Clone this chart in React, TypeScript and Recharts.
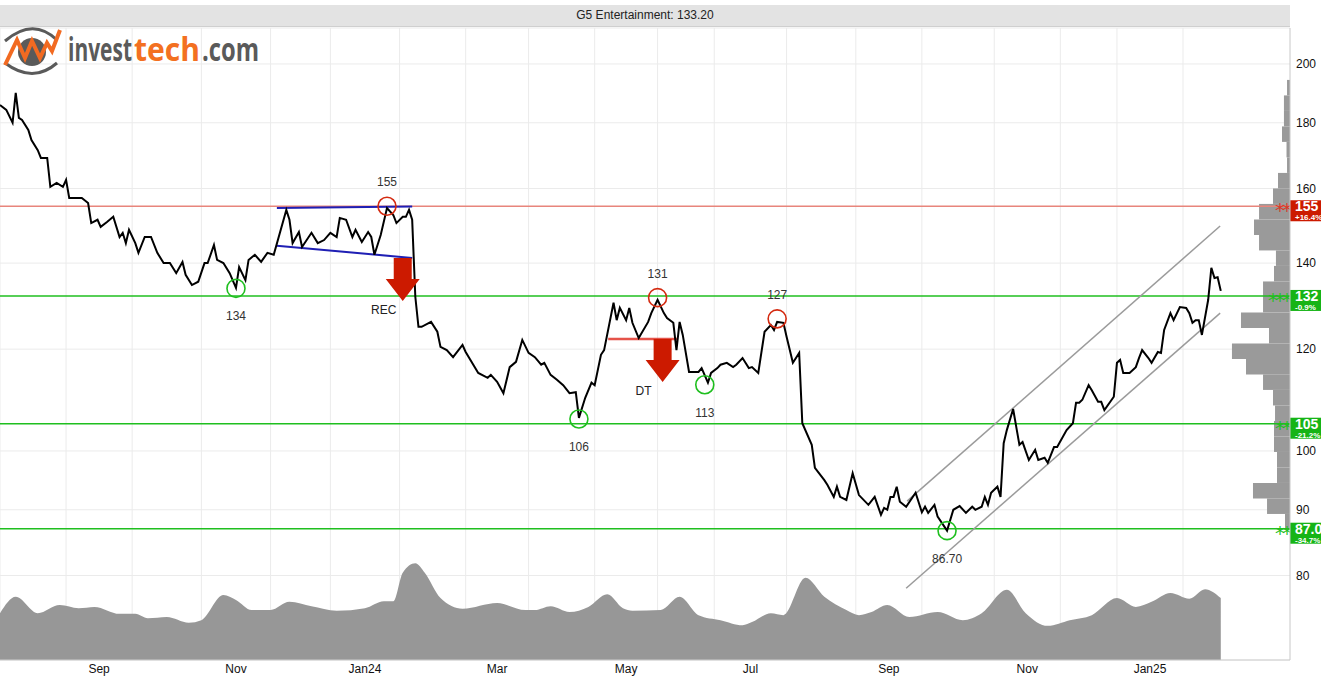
import React from 'react';
import {
  ComposedChart,
  Line,
  Area,
  XAxis,
  YAxis,
  CartesianGrid,
  ReferenceLine,
  ReferenceDot,
  ReferenceArea,
} from 'recharts';

// x values are trading days counted from 1 Aug 2023
const monthNames = ['Aug', 'Sep', 'Oct', 'Nov', 'Dec', 'Jan24', 'Feb', 'Mar', 'Apr', 'May', 'Jun', 'Jul', 'Aug', 'Sep', 'Oct', 'Nov', 'Dec', 'Jan25', 'Feb'];
const monthStarts = [0, 21, 42, 64, 86, 105, 127, 148, 168, 189, 209, 227, 250, 272, 293, 316, 337, 355, 376];

const priceDays = [
  0, 2, 4, 5, 6, 7, 9, 10, 12, 13, 15, 16, 18, 20, 21, 22, 24, 26, 28, 29, 31, 32, 34, 36, 38, 39, 40, 41, 43, 44,
  46, 48, 50, 52, 54, 56, 58, 59, 61, 63, 65, 66, 68, 69, 71, 73, 75, 76, 78, 79, 81, 83, 85, 87, 91, 92, 93, 95, 96, 99,
  101, 103, 105, 107, 108, 110, 112, 113, 115, 117, 118, 119, 121, 123, 125, 126, 128, 129, 130, 131, 132, 133, 134, 137, 139, 140, 142, 144, 147, 148,
  152, 155, 156, 158, 160, 162, 164, 166, 168, 170, 172, 173, 175, 177, 179, 181, 183, 184, 186, 188, 189, 191, 192, 195, 196, 197, 199, 200, 201, 203,
  206, 207, 209, 211, 212, 214, 215, 216, 217, 219, 222, 223, 225, 226, 228, 229, 231, 233, 234, 236, 238, 239, 241, 243, 245, 246, 247, 249, 250, 252,
  254, 255, 258, 259, 262, 263, 265, 266, 267, 269, 271, 273, 276, 278, 280, 281, 282, 283, 284, 285, 286, 288, 291, 293, 294, 295, 297, 298, 301, 303,
  305, 307, 309, 310, 312, 313, 314, 315, 317, 318, 319, 320, 322, 324, 325, 327, 329, 330, 332, 333, 335, 336, 339, 341, 342, 343, 344, 346, 347, 349,
  350, 351, 354, 355, 356, 357, 359, 361, 362, 363, 365, 366, 368, 369, 370, 372, 373, 375, 377, 378, 379, 380, 381, 382, 384, 385, 386, 387, 388,
];
const prices = [
  185.8, 184.2, 180.0, 189.9, 181.6, 180.9, 177.7, 174.5, 171.4, 169.0, 169.0, 160.5, 161.6, 160.5, 162.5, 157.3, 157.3, 157.3, 155.9, 150.4, 151.3, 149.4, 150.7, 152.1, 146.7, 147.8, 145.1, 148.6, 145.1, 142.6,
  146.7, 146.7, 142.6, 140.0, 140.0, 137.5, 140.3, 137.1, 134.6, 135.4, 140.0, 140.0, 144.6, 140.8, 140.0, 137.5, 133.9, 139.0, 135.8, 140.8, 142.1, 140.3, 142.6, 142.1, 154.0, 151.3, 145.1, 148.0, 144.1, 147.8,
  145.1, 145.9, 147.8, 146.7, 151.8, 151.3, 146.7, 148.6, 145.4, 148.0, 146.7, 142.1, 147.2, 154.5, 152.6, 150.4, 152.1, 152.1, 154.0, 151.3, 131.8, 124.9, 124.9, 126.0, 123.8, 120.5, 119.8, 118.3, 120.9, 119.4,
  115.0, 114.0, 114.6, 113.2, 110.9, 116.2, 117.3, 122.0, 119.2, 118.3, 116.7, 117.1, 114.6, 113.6, 112.5, 110.9, 111.1, 106.1, 110.0, 113.0, 112.5, 118.8, 119.8, 130.4, 126.4, 129.2, 126.4, 129.2, 125.8, 122.4,
  126.0, 128.0, 131.1, 128.0, 126.9, 125.8, 119.8, 126.0, 123.1, 115.2, 115.2, 116.0, 113.0, 115.0, 116.0, 116.7, 117.1, 116.2, 116.7, 118.1, 116.0, 116.2, 115.0, 123.8, 125.3, 124.2, 126.0, 125.8, 122.7, 117.1,
  119.2, 105.1, 101.1, 97.0, 94.9, 94.1, 92.1, 93.8, 92.1, 91.6, 96.1, 92.4, 90.8, 92.1, 89.2, 90.3, 90.0, 92.1, 92.1, 93.8, 91.3, 90.5, 92.8, 89.6, 90.5, 89.5, 90.8, 88.9, 86.7, 90.0,
  90.6, 89.5, 90.5, 90.0, 90.5, 92.1, 90.8, 92.8, 93.8, 92.1, 101.4, 103.8, 107.8, 101.1, 101.6, 98.4, 100.2, 98.4, 98.8, 97.9, 100.7, 100.7, 103.8, 105.1, 109.0, 109.0, 109.6, 112.5, 111.5, 109.2,
  109.2, 107.6, 110.2, 117.1, 117.7, 115.0, 115.0, 116.2, 118.1, 119.8, 118.1, 117.1, 119.4, 119.2, 124.2, 128.0, 126.4, 129.4, 129.2, 128.0, 125.8, 126.4, 126.4, 123.1, 131.1, 138.8, 136.3, 136.5, 133.2,
];

const volumeDays = [
  0, 5, 12, 19, 25, 30, 38, 43, 47, 53, 60, 64, 71, 75, 80, 86, 92, 99, 107, 116, 122, 125, 128, 132, 135, 140, 147, 158, 167, 170,
  175, 181, 187, 193, 198, 201, 210, 216, 222, 229, 236, 239, 245, 249, 256, 262, 269, 273, 277, 282, 289, 298, 306, 312, 320, 326, 333, 340, 347, 355,
  361, 366, 372, 378, 383, 388,
];
const volumes = [
  74, 100, 74, 87, 82, 84, 73, 73, 66, 68, 59, 63, 103, 95, 79, 79, 92, 85, 78, 82, 93, 93, 138, 153, 138, 98, 81, 90, 79, 79,
  85, 76, 84, 104, 82, 78, 79, 100, 71, 63, 55, 60, 74, 71, 130, 100, 79, 71, 76, 87, 68, 76, 63, 74, 111, 74, 54, 63, 71, 98,
  84, 92, 106, 97, 112, 98,
];

// volume-by-price profile drawn against the right edge
const profileEdges = [
  86.88, 89.33, 91.84, 94.43, 97.09, 99.82, 102.63, 105.52, 108.49, 111.55, 114.69, 117.91, 121.23, 124.65, 128.16,
  131.76, 135.47, 139.29, 143.21, 147.24, 151.38, 155.65, 160.03, 164.54, 169.17, 173.94, 178.83, 183.86, 189.04, 194.36,
];
const profileVolumes = [
  3.9, 17.8, 28.7, 10.1, 10.1, 12.4, 12.4, 11.6, 13.2, 20.9, 34.1, 45.0, 16.3, 38.0, 20.9,
  20.9, 12.4, 10.9, 24.0, 27.9, 24.0, 13.2, 9.3, 2.3, 2.7, 6.2, 4.7, 4.7, 2.3,
];

const levels = [155, 132, 105, 87.0];
const levelTags = ['155', '132', '105', '87.0'];
const levelChange = ['+16.4%', '-0.9%', '-21.2%', '-34.7%'];
const levelStars = [2, 3, 2, 2];

const tops = [
  { day: 123, price: 155, text: '155' },
  { day: 209, price: 131.6, text: '131' },
  { day: 247, price: 126.7, text: '127' },
];
const bottoms = [
  { day: 75, price: 133.8, text: '134' },
  { day: 184, price: 105.9, text: '106' },
  { day: 224, price: 112.6, text: '113' },
  { day: 301, price: 86.7, text: '86.70' },
];

const signals = [
  { day: 128, price: 141.3, text: 'REC' },
  { day: 210.6, price: 122.2, text: 'DT' },
];

const priceData = priceDays.map((d, i) => ({ day: d, price: prices[i] }));
const volumeData = volumeDays.map((d, i) => ({ day: d, volume: volumes[i] }));
const profileData = profileVolumes.map((v, i) => ({
  vp: v,
  mid: Math.sqrt(profileEdges[i] * profileEdges[i + 1]),
}));

// labels sit in the middle of every other month
const labelTicks: number[] = [];
const labelList: string[] = [];
for (let i = 1; i < monthStarts.length - 1; i += 2) {
  labelTicks.push((monthStarts[i] + monthStarts[i + 1]) / 2);
  labelList.push(monthNames[i]);
}

const RED = '#d42a10';
const GREEN = '#1fbf1f';
const FONT = '"Liberation Sans", Arial, sans-serif';

const ring = (color: string, text: string, above: boolean) => (p: any) => (
  <g>
    <circle cx={p.cx} cy={p.cy} r={9} fill="none" stroke={color} strokeWidth={1.6} />
    <text x={p.cx} y={above ? p.cy - 20 : p.cy + 32} textAnchor="middle" fontSize={12} fill="#333" fontFamily={FONT}>
      {text}
    </text>
  </g>
);

const sellArrow = (text: string) => (p: any) => {
  const { cx, cy } = p;
  return (
    <g>
      <polygon
        points={`${cx - 9},${cy} ${cx + 9},${cy} ${cx + 9},${cy + 21} ${cx + 17},${cy + 21} ${cx},${cy + 43} ${cx - 17},${cy + 21} ${cx - 9},${cy + 21}`}
        fill="#cc1a00"
      />
      <text x={cx - 19} y={cy + 56} textAnchor="middle" fontSize={12} fill="#222" fontFamily={FONT}>
        {text}
      </text>
    </g>
  );
};

const levelTag = (i: number) => (p: any) => {
  const vb = p.viewBox || {};
  const right = (vb.x || 0) + (vb.width || 0);
  const y = vb.y || 0;
  const color = i === 0 ? '#cc1a00' : '#16b416';
  const lineColor = i === 0 ? '#d83a2a' : GREEN;
  return (
    <g>
      <text x={right - 1} y={y + 11} textAnchor="end" fontSize={20} fill={lineColor} fontFamily='"DejaVu Sans", sans-serif' letterSpacing={-3}>
        {'*'.repeat(levelStars[i])}
      </text>
      <rect x={right} y={y - 6} width={40} height={21} fill={color} />
      <text x={right + 5} y={y + 5} fontSize={14} fontWeight="bold" fill="#fff" fontFamily={FONT}>
        {levelTags[i]}
      </text>
      <text x={right + 5} y={y + 14} fontSize={8} fontWeight="bold" fill="#fff" fontFamily={FONT}>
        {levelChange[i]}
      </text>
    </g>
  );
};

const MonthTick = (p: any) => {
  const v = p.payload ? p.payload.value : undefined;
  const k = labelTicks.indexOf(v);
  return (
    <text x={p.x} y={p.y + 11} textAnchor="middle" fontSize={12} fill="#111" fontFamily={FONT}>
      {k >= 0 ? labelList[k] : ''}
    </text>
  );
};

// vertical grid at each month start, placed by the x axis scale
const monthGrid = (g: any) => {
  const ax = g.xAxis || {};
  if (typeof ax.scale === 'function') return monthStarts.map((d) => ax.scale(d));
  const o = g.offset || { left: 0, width: 1290 };
  return monthStarts.map((d) => o.left + (d / 410) * o.width);
};

function Logo() {
  const logoFont = '"Open Sans", sans-serif';
  return (
    <svg width={280} height={60} style={{ position: 'absolute', left: 0, top: 22 }} viewBox="0 22 280 60">
      <circle cx={32} cy={52} r={14} fill="#5a5a5a" />
      <path d="M5 41 Q33 17 57 40" stroke="#5a5a5a" strokeWidth={3} fill="none" />
      <path d="M5 63 Q33 84 57 63" stroke="#5a5a5a" strokeWidth={3} fill="none" />
      <polyline
        points="5,65 17,40 25,58 32,41 40,58 47,43 52,51 60,30"
        fill="none"
        stroke="#f26a21"
        strokeWidth={4}
        strokeLinejoin="miter"
      />
      <text x={68} y={61} fontSize={33} fontWeight={700} fontFamily={logoFont} fill="#5a5a5a" textLength={64} lengthAdjust="spacingAndGlyphs">
        invest
      </text>
      <text x={134} y={61} fontSize={33} fontWeight={700} fontFamily={logoFont} fill="#f37021" textLength={66} lengthAdjust="spacingAndGlyphs">
        tech
      </text>
      <text x={202} y={61} fontSize={33} fontWeight={700} fontFamily={logoFont} fill="#5a5a5a" textLength={57} lengthAdjust="spacingAndGlyphs">
        .com
      </text>
    </svg>
  );
}

export default function App() {
  return (
    <div
      style={{
        position: 'absolute',
        left: 0,
        top: 0,
        width: 1321,
        height: 680,
        overflow: 'hidden',
        background: '#fff',
        fontFamily: FONT,
      }}
    >
      <ComposedChart width={1321} height={680} margin={{ top: 28, right: 0, bottom: 0, left: 0 }}>
        <CartesianGrid yAxisId="p" stroke="#ebebeb" strokeWidth={1} verticalCoordinatesGenerator={monthGrid} />
        <XAxis
          xAxisId={0}
          dataKey="day"
          type="number"
          domain={[0, 410]}
          ticks={labelTicks}
          tick={MonthTick}
          interval={0}
          tickLine={false}
          tickSize={0}
          height={20}
          axisLine={{ stroke: '#cccccc' }}
          allowDataOverflow
        />
        <XAxis xAxisId="vp" dataKey="vp" type="number" domain={[0, 1000]} reversed hide allowDataOverflow />
        <YAxis
          yAxisId="p"
          orientation="right"
          scale="log"
          type="number"
          domain={[68.77, 213.3]}
          ticks={[80, 90, 100, 120, 140, 160, 180, 200]}
          allowDataOverflow
          width={31}
          tickLine={false}
          tickSize={0}
          tickMargin={6}
          axisLine={{ stroke: '#c8c8c8' }}
          tick={{ fill: '#111', fontSize: 12 }}
        />
        <YAxis yAxisId="vol" type="number" domain={[0, 1000]} hide allowDataOverflow />

        {/* carries the profile data so the profile axis gets a scale */}
        <Line
          data={profileData}
          xAxisId="vp"
          yAxisId="p"
          dataKey="mid"
          stroke="none"
          dot={false}
          activeDot={false}
          isAnimationActive={false}
        />
        {profileVolumes.map((v, i) => (
          <ReferenceArea
            key={`vp${i}`}
            xAxisId="vp"
            yAxisId="p"
            x1={0}
            x2={v}
            y1={profileEdges[i]}
            y2={profileEdges[i + 1]}
            fill="#9a9a9a"
            fillOpacity={1}
            stroke="none"
            ifOverflow="visible"
          />
        ))}

        <Area
          data={volumeData}
          xAxisId={0}
          yAxisId="vol"
          dataKey="volume"
          type="monotone"
          fill="#979797"
          fillOpacity={1}
          stroke="none"
          isAnimationActive={false}
        />

        {levels.map((lv, i) => (
          <ReferenceLine
            key={`lv${i}`}
            yAxisId="p"
            y={lv}
            stroke={i === 0 ? '#e8857c' : GREEN}
            strokeWidth={1.5}
            label={levelTag(i)}
          />
        ))}

        <ReferenceLine yAxisId="p" segment={[{ x: 88, y: 154.5 }, { x: 131, y: 154.9 }]} stroke="#1f1fb4" strokeWidth={2} />
        <ReferenceLine yAxisId="p" segment={[{ x: 88, y: 144.4 }, { x: 131, y: 141.3 }]} stroke="#1f1fb4" strokeWidth={2} />
        <ReferenceLine yAxisId="p" segment={[{ x: 288.3, y: 91.4 }, { x: 387.8, y: 149.6 }]} stroke="#9b9b9b" strokeWidth={1.5} />
        <ReferenceLine yAxisId="p" segment={[{ x: 288, y: 78.2 }, { x: 387.8, y: 128.0 }]} stroke="#9b9b9b" strokeWidth={1.5} />
        <ReferenceLine yAxisId="p" segment={[{ x: 193.3, y: 122.2 }, { x: 215.5, y: 122.2 }]} stroke="#e0352a" strokeWidth={2.5} strokeOpacity={0.85} />

        <Line
          data={priceData}
          xAxisId={0}
          yAxisId="p"
          dataKey="price"
          type="linear"
          stroke="#000"
          strokeWidth={2}
          dot={false}
          isAnimationActive={false}
        />

        {signals.map((s) => (
          <ReferenceDot key={s.text} yAxisId="p" x={s.day} y={s.price} r={1} shape={sellArrow(s.text)} />
        ))}
        {tops.map((t) => (
          <ReferenceDot key={`t${t.text}`} yAxisId="p" x={t.day} y={t.price} r={9} shape={ring(RED, t.text, true)} />
        ))}
        {bottoms.map((b) => (
          <ReferenceDot key={`b${b.text}`} yAxisId="p" x={b.day} y={b.price} r={9} shape={ring(GREEN, b.text, false)} />
        ))}
      </ComposedChart>

      <div
        style={{
          position: 'absolute',
          left: 0,
          top: 5,
          width: 1290,
          height: 21,
          background: '#e3e3e3',
          borderBottom: '1px solid #cfcfcf',
          textAlign: 'center',
          fontSize: 12,
          lineHeight: '21px',
          color: '#222',
          fontFamily: FONT,
        }}
      >
        G5 Entertainment: 133.20
      </div>
      <Logo />
    </div>
  );
}
